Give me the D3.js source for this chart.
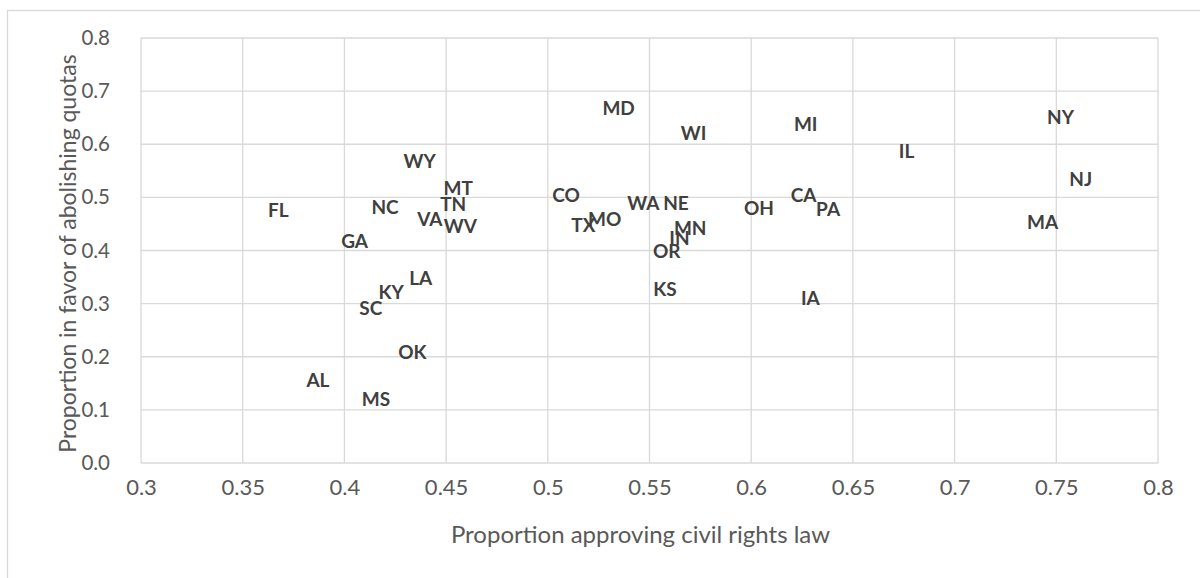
<!DOCTYPE html>
<html>
<head>
<meta charset="utf-8">
<script src="https://cdn.jsdelivr.net/npm/d3@7"></script>
<style>
    body { margin: 0; background: #fff; }
    svg { display: block; font-family: Lato, "Open Sans", sans-serif; }
</style>
</head>
<body>
<div id="scatter"></div>
<script>
// state labels and values
const states = ["FL","NC","MT","TN","VA","WV","GA","WY","CO","TX","MO","LA","KY","SC","OK","AL","MS",
    "WA","NE","MN","IN","OR","KS","OH","CA","PA","IA","MA","MD","WI","MI","NY","IL","NJ"];
const civilRights = [0.3675,0.420,0.456,0.4535,0.442,0.457,0.405,0.437,0.509,0.5175,0.528,0.4375,0.423,0.413,0.4334,0.387,0.4155,
    0.547,0.563,0.570,0.5647,0.5585,0.5576,0.6038,0.6258,0.6378,0.6291,0.7433,0.5348,0.5717,0.6268,0.7521,0.6764,0.762];
const quotas = [0.475,0.481,0.517,0.4875,0.459,0.446,0.4166,0.5685,0.503,0.448,0.459,0.3477,0.321,0.291,0.2084,0.156,0.120,
    0.489,0.489,0.442,0.423,0.399,0.327,0.4795,0.5045,0.4776,0.310,0.453,0.6677,0.6206,0.6376,0.6507,0.586,0.534];
const xTicks = [0.3,0.35,0.4,0.45,0.5,0.55,0.6,0.65,0.7,0.75,0.8];
const yTicks = [0,0.1,0.2,0.3,0.4,0.5,0.6,0.7,0.8];

let svgWidth = 1200;
let svgHeight = 578;
let margin = { top: 38, bottom: 115, left: 141, right: 42 };
let width = svgWidth - margin.left - margin.right;
let height = svgHeight - margin.top - margin.bottom;

let svg = d3.select("#scatter")
    .append("svg")
    .attr("width", svgWidth)
    .attr("height", svgHeight);

// chart border (runs off the right and bottom of the window)
svg.append("rect")
    .attr("x", 7.5)
    .attr("y", 10.5)
    .attr("width", 1220)
    .attr("height", 600)
    .attr("fill", "none")
    .attr("stroke", "#d9d9d9")
    .attr("stroke-width", 1.3);

let chartGroup = svg.append("g")
    .attr("transform", `translate(${margin.left},${margin.top})`);

let x = d3.scaleLinear().domain([0.3, 0.8]).range([0, width]);
let y = d3.scaleLinear().domain([0, 0.8]).range([height, 0]);

// gridlines
chartGroup.append("g")
    .selectAll("line")
    .data(xTicks)
    .enter()
    .append("line")
    .attr("x1", d => x(d)).attr("x2", d => x(d))
    .attr("y1", 0).attr("y2", height)
    .attr("stroke", "#d9d9d9")
    .attr("stroke-width", 1.3);
chartGroup.append("g")
    .selectAll("line")
    .data(yTicks)
    .enter()
    .append("line")
    .attr("x1", 0).attr("x2", width)
    .attr("y1", d => y(d)).attr("y2", d => y(d))
    .attr("stroke", "#d9d9d9")
    .attr("stroke-width", 1.3);

// axes (no domain line, no ticks)
let bottomAxis = d3.axisBottom(x).tickValues(xTicks).tickSize(0).tickPadding(16).tickFormat(d3.format("~g"));
let leftAxis = d3.axisLeft(y).tickValues(yTicks).tickSize(0).tickPadding(31).tickFormat(d3.format(".1f"));

let xg = chartGroup.append("g")
    .attr("transform", `translate(0,${height})`)
    .call(bottomAxis);
let yg = chartGroup.append("g")
    .call(leftAxis);
xg.select(".domain").remove();
yg.select(".domain").remove();
xg.selectAll("text")
    .attr("fill", "#595959")
    .attr("font-size", "22px")
    .attr("font-family", "Lato, sans-serif");
yg.selectAll("text")
    .attr("fill", "#595959")
    .attr("font-size", "20.5px")
    .attr("font-family", "Lato, sans-serif");

// state labels
chartGroup.selectAll(".state")
    .data(states)
    .enter()
    .append("text")
    .attr("class", "state")
    .attr("x", (d, i) => x(civilRights[i]))
    .attr("y", (d, i) => y(quotas[i]))
    .attr("dy", "0.35em")
    .attr("text-anchor", "middle")
    .attr("fill", "#404040")
    .attr("font-weight", "bold")
    .attr("font-size", "19px")
    .text(d => d);

// axis titles
chartGroup.append("text")
    .attr("x", width / 2 - 9)
    .attr("y", height + 80)
    .attr("text-anchor", "middle")
    .attr("fill", "#595959")
    .attr("font-size", "24px")
    .text("Proportion approving civil rights law");
chartGroup.append("text")
    .attr("transform", "rotate(-90)")
    .attr("x", -height / 2 - 3)
    .attr("y", -65)
    .attr("text-anchor", "middle")
    .attr("fill", "#595959")
    .attr("font-size", "23px")
    .text("Proportion in favor of abolishing quotas");
</script>
</body>
</html>
